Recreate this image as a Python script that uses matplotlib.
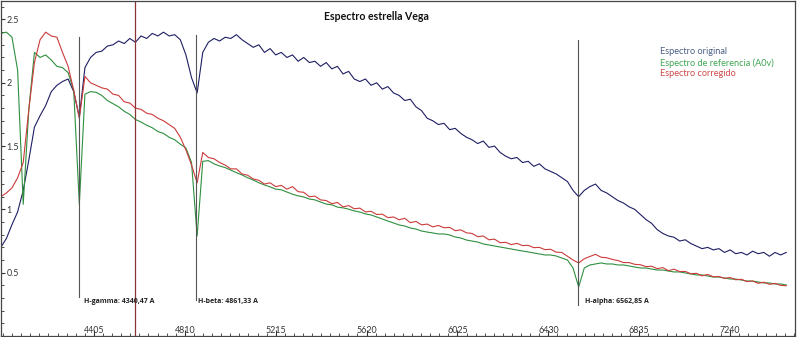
import numpy as np
import matplotlib
matplotlib.use("Agg")
import matplotlib.pyplot as plt
from matplotlib.ticker import FixedLocator

# Wavelength grid (Angstrom), 25 A sampling
wavelength = np.arange(3990, 7501, 25)

# Raw observed spectrum
original = [0.70, 0.77, 0.88, 0.98, 1.15, 1.39, 1.65, 1.74, 1.82, 1.93, 1.98, 2.01, 2.03, 1.93, 1.73,
            2.12, 2.20, 2.24, 2.25, 2.29, 2.30, 2.33, 2.31, 2.35, 2.32, 2.37, 2.35, 2.39, 2.37, 2.40, 2.37,
            2.38, 2.34, 2.22, 2.04, 1.92,
            2.24, 2.32, 2.35, 2.33, 2.36, 2.35, 2.38, 2.34, 2.31, 2.28, 2.30, 2.24, 2.27, 2.22, 2.24, 2.20,
            2.22, 2.17, 2.20, 2.16, 2.17, 2.13, 2.16, 2.11, 2.13, 2.07, 2.09, 2.03, 2.01, 2.03, 1.98, 2.00,
            1.95, 1.97, 1.92, 1.90, 1.86, 1.87, 1.81, 1.78, 1.72, 1.70, 1.67, 1.68, 1.63, 1.64, 1.60, 1.57,
            1.55, 1.52, 1.54, 1.49, 1.50, 1.45, 1.42, 1.40, 1.41, 1.37, 1.38, 1.34, 1.36, 1.32, 1.30, 1.28,
            1.25, 1.22, 1.15, 1.10,
            1.15, 1.18, 1.20, 1.15, 1.13, 1.10, 1.07, 1.05, 1.02, 1.00, 0.96, 0.92, 0.89, 0.84, 0.81, 0.79,
            0.78, 0.75, 0.76, 0.73, 0.71, 0.69, 0.70, 0.68, 0.69, 0.66, 0.68, 0.65, 0.66, 0.64, 0.67, 0.65,
            0.66, 0.63, 0.66, 0.64, 0.66]

# A0V reference spectrum
reference = [2.39, 2.40, 2.36, 2.10, 1.04, 1.79, 2.24, 2.20, 2.22, 2.18, 2.13, 2.12, 2.08, 1.94, 1.04,
             1.91, 1.93, 1.925, 1.90, 1.86, 1.835, 1.81, 1.775, 1.75, 1.71, 1.69, 1.665, 1.645, 1.615, 1.60,
             1.57, 1.55, 1.515, 1.485, 1.37, 0.79,
             1.38, 1.385, 1.36, 1.343, 1.33, 1.31, 1.29, 1.272, 1.25, 1.232, 1.21, 1.193, 1.178, 1.16, 1.155,
             1.137, 1.12, 1.107, 1.098, 1.082, 1.075, 1.058, 1.042, 1.036, 1.018, 1.012, 1.002, 0.988, 0.979,
             0.964, 0.956, 0.94, 0.924, 0.908, 0.893, 0.877, 0.869, 0.853, 0.845, 0.829, 0.821, 0.814, 0.806,
             0.806, 0.798, 0.782, 0.774, 0.758, 0.75, 0.742, 0.727, 0.719, 0.711, 0.703, 0.695, 0.687, 0.679,
             0.671, 0.664, 0.656, 0.648, 0.64, 0.64, 0.632, 0.616, 0.60, 0.537, 0.387,
             0.537, 0.561, 0.569, 0.577, 0.569, 0.569, 0.561, 0.561, 0.553, 0.545, 0.537, 0.537, 0.529, 0.521,
             0.521, 0.513, 0.506, 0.506, 0.498, 0.49, 0.482, 0.482, 0.474, 0.466, 0.466, 0.458, 0.45, 0.45,
             0.442, 0.434, 0.434, 0.427, 0.419, 0.419, 0.411, 0.411, 0.403]

# Instrument-response corrected spectrum
corrected = [1.10, 1.13, 1.17, 1.25, 1.37, 1.79, 2.16, 2.34, 2.40, 2.37, 2.36, 2.24, 2.13, 1.94, 1.72,
             2.05, 2.00, 1.98, 1.96, 1.95, 1.91, 1.90, 1.85, 1.84, 1.80, 1.79, 1.76, 1.75, 1.72, 1.70, 1.67,
             1.64, 1.57, 1.47, 1.35, 1.21,
             1.45, 1.41, 1.40, 1.37, 1.35, 1.32, 1.32, 1.28, 1.27, 1.24, 1.23, 1.20, 1.21, 1.18, 1.19, 1.16,
             1.18, 1.14, 1.135, 1.10, 1.105, 1.075, 1.07, 1.045, 1.055, 1.02, 1.03, 1.005, 1.01, 0.98, 0.985,
             0.96, 0.962, 0.935, 0.94, 0.918, 0.93, 0.895, 0.905, 0.878, 0.884, 0.862, 0.873, 0.855, 0.858,
             0.832, 0.838, 0.815, 0.81, 0.785, 0.79, 0.76, 0.765, 0.737, 0.74, 0.722, 0.732, 0.714, 0.716,
             0.698, 0.70, 0.682, 0.685, 0.662, 0.66, 0.63, 0.60, 0.577,
             0.61, 0.628, 0.645, 0.622, 0.618, 0.605, 0.596, 0.58, 0.58, 0.566, 0.563, 0.548, 0.551, 0.532,
             0.54, 0.516, 0.528, 0.509, 0.51, 0.492, 0.495, 0.475, 0.486, 0.468, 0.47, 0.455, 0.462, 0.444,
             0.448, 0.43, 0.434, 0.416, 0.425, 0.408, 0.415, 0.40, 0.397]

# Balmer lines (rest wavelength, label)
line_waves = [4340.47, 4861.33, 6562.85]
line_labels = ["H-gamma: 4340,47 A", "H-beta: 4861,33 A", "H-alpha: 6562,85 A"]
line_top = [2.36, 2.38, 2.34]
line_bottom = [0.31, 0.285, 0.245]
label_x = [4360, 4868, 6595]
label_y = 0.27

cursor_wave = 4587

x_major = [4405, 4810, 5215, 5620, 6025, 6430, 6835, 7240]
y_major = [0.5, 1, 1.5, 2, 2.5]
y_labels = ["0.5", "1", "1.5", "2", "2.5"]

series_names = ["Espectro original", "Espectro de referencia (A0v)", "Espectro corregido"]
line_colors = ["#1e1e64", "#2f8f3f", "#cc3b3b"]
text_colors = ["#4a5f86", "#3fa654", "#cf4848"]

FONT = "Lato"

W, H = 800, 337
fig = plt.figure(figsize=(W / 100, H / 100), dpi=100)
ax = fig.add_axes([1 / W, 1 / H, 794 / W, 335 / H])

ax.plot(wavelength, original, color=line_colors[0], lw=0.8)
ax.plot(wavelength, reference, color=line_colors[1], lw=0.8)
ax.plot(wavelength, corrected, color=line_colors[2], lw=0.8)

for wv, top, bot, lab, lx in zip(line_waves, line_top, line_bottom, line_labels, label_x):
    ax.plot([wv, wv], [bot, top], color="#555555", lw=0.8)
    ax.text(lx, label_y, lab, fontsize=5.0, fontweight="bold", color="#222222",
            va="center", ha="left", family="Open Sans")

ax.axvline(cursor_wave, color="#8a3535", lw=0.9)

ax.set_xlim(3991, 7529)
ax.set_ylim(0, 2.646)

ax.xaxis.set_major_locator(FixedLocator(x_major))
ax.xaxis.set_minor_locator(FixedLocator(np.arange(4000, 7530, 40.5)))
ax.yaxis.set_major_locator(FixedLocator(y_major))
ax.yaxis.set_minor_locator(FixedLocator(np.arange(0.1, 2.65, 0.1)))
ax.set_yticklabels(y_labels)
ax.set_xticklabels([str(v) for v in x_major])

ax.tick_params(axis="both", which="both", direction="in", colors="#333333", labelsize=6.4)
ax.tick_params(axis="x", which="major", length=4, pad=-7.5)
ax.tick_params(axis="x", which="minor", length=2)
ax.tick_params(axis="y", which="major", length=3, pad=-4)
ax.tick_params(axis="y", which="minor", length=2)
for lab in ax.get_yticklabels():
    lab.set_ha("left")
    lab.set_family(FONT)
for lab in ax.get_xticklabels():
    lab.set_family(FONT)

for s in ax.spines.values():
    s.set_color("#444444")
    s.set_linewidth(0.9)

fig.text(376 / W, 1 - 17 / H, "Espectro estrella Vega", ha="center", va="center",
         fontsize=7.6, fontweight="bold", family=FONT, color="#111111")

for i, (name, c) in enumerate(zip(series_names, text_colors)):
    fig.text(660 / W, 1 - (52 + 11 * i) / H, name, ha="left", va="center",
             fontsize=6.6, family=FONT, color=c)

fig.savefig("out.png", dpi=100)
